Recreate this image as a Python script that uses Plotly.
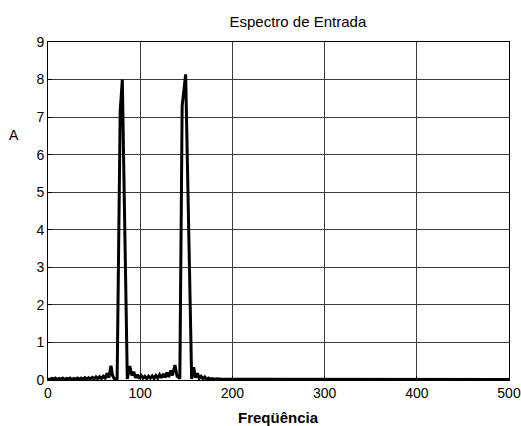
import plotly.graph_objects as go

# Magnitude spectrum of the input signal (frequency in Hz, amplitude A)
freq = [0, 2, 4, 6, 8, 10, 12, 14, 16, 18, 20, 22, 24, 26, 28, 30, 32, 34, 36, 38,
        40, 42, 44, 46, 48, 50, 52, 54, 56, 58, 60, 62, 64, 66, 68.3, 70, 72, 75,
        78.3, 80.6, 86, 88.7, 91, 93, 95, 97, 99, 101, 103, 105, 107, 109, 111,
        113, 115, 117, 119, 121, 123, 125, 127, 129, 131, 133, 135, 137.7, 140,
        143, 145.5, 149.3, 155.8, 158, 160, 162, 164, 166, 168, 170, 172, 174,
        176, 178, 180, 184, 188, 192, 196, 200, 250, 300, 350, 400, 450, 500]
amp = [0.03, 0.01, 0.04, 0.02, 0.05, 0.01, 0.04, 0.02, 0.05, 0.01, 0.04, 0.02,
       0.05, 0.01, 0.04, 0.02, 0.05, 0.02, 0.05, 0.02, 0.06, 0.02, 0.06, 0.03,
       0.07, 0.03, 0.08, 0.03, 0.09, 0.04, 0.10, 0.05, 0.18, 0.06, 0.38, 0.12,
       0.03, 0.04, 7.15, 8.00, 0.03, 0.37, 0.12, 0.22, 0.06, 0.14, 0.04, 0.12,
       0.05, 0.10, 0.03, 0.10, 0.05, 0.11, 0.04, 0.12, 0.05, 0.14, 0.06, 0.16,
       0.07, 0.20, 0.08, 0.25, 0.12, 0.40, 0.10, 0.04, 7.30, 8.14, 0.03, 0.34,
       0.06, 0.18, 0.05, 0.10, 0.03, 0.08, 0.02, 0.05, 0.02, 0.04, 0.02, 0.03,
       0.02, 0.02, 0.01, 0.01, 0.01, 0.01, 0.01, 0.01, 0.01, 0.01]

x_ticks = [0, 100, 200, 300, 400, 500]
y_ticks = [0, 1, 2, 3, 4, 5, 6, 7, 8, 9]

font = "Liberation Sans, Arial, sans-serif"

fig = go.Figure(
    go.Scatter(x=freq, y=amp, mode="lines",
               line=dict(color="black", width=3), hoverinfo="x+y")
)

axis_common = dict(
    showgrid=True, gridcolor="#3a3a3a", gridwidth=1,
    showline=True, linecolor="black", linewidth=1, mirror=True,
    zeroline=False, ticks="inside", ticklen=4, tickcolor="black",
    automargin=False,
    tickfont=dict(family=font, size=14, color="black"),
)

fig.update_layout(
    width=521, height=426,
    margin=dict(l=48, r=12, t=42, b=46, autoexpand=False),
    paper_bgcolor="white", plot_bgcolor="white",
    showlegend=False,
    title=dict(text="Espectro de Entrada", x=0.542, xref="paper",
               xanchor="center", y=0.95, yanchor="middle",
               font=dict(family=font, size=15, color="black")),
    xaxis=dict(range=[0, 500], tickvals=x_ticks, **axis_common),
    yaxis=dict(range=[0, 9], tickvals=y_ticks, **axis_common),
    annotations=[
        dict(text="A", xref="paper", yref="paper", x=-0.0738, y=0.726,
             xanchor="center", yanchor="middle", showarrow=False,
             font=dict(family=font, size=14, color="black")),
        dict(text="<b>Freqüência</b>", xref="paper", yref="paper", x=0.5,
             y=-0.11, xanchor="center", yanchor="middle", showarrow=False,
             font=dict(family=font, size=15, color="black")),
    ],
)

fig.write_html("out.html")
